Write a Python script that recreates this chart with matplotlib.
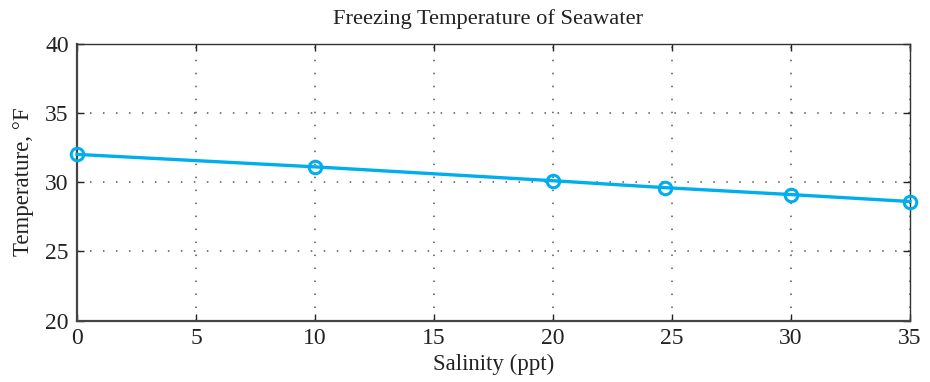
import matplotlib
matplotlib.use("Agg")
import matplotlib.pyplot as plt

salinity = [0, 10, 20, 24.7, 30, 35]
temperature = [32, 31.1, 30.1, 29.6, 29.1, 28.6]
xticks = [0, 5, 10, 15, 20, 25, 30, 35]
yticks = [20, 25, 30, 35, 40]

plt.rcParams['font.family'] = ['Liberation Serif', 'DejaVu Serif']

fig = plt.figure(figsize=(9.30, 3.82), dpi=100)
ax = fig.add_axes([77/930, 1 - 320.7/382, (910-77)/930, (320.7-43.5)/382])

ax.plot(salinity, temperature, color='#00AEEF', lw=2.4, marker='o', ms=9,
        mfc='none', mec='#00AEEF', mew=2.2, clip_on=False, zorder=3)

ax.set_xlim(0, 35)
ax.set_ylim(20, 40)
ax.set_xticks(xticks)
ax.set_yticks(yticks)
ax.tick_params(direction='in', length=5, width=1, top=True, right=True,
               labelsize=17, colors='#222222')
ax.tick_params(axis='y', pad=6)
ax.tick_params(axis='x', pad=5)
ax.grid(True, color='#555555', linestyle=(0, (1, 7.5)), linewidth=1.1)
for s in ['left', 'bottom']:
    ax.spines[s].set_linewidth(1.6)
    ax.spines[s].set_color('#444444')
for s in ['top', 'right']:
    ax.spines[s].set_linewidth(1.0)
    ax.spines[s].set_color('#333333')

ax.set_title('Freezing Temperature of Seawater', fontsize=16.2, pad=14,
             color='#222222', x=0.493)
ax.set_xlabel('Salinity (ppt)', fontsize=16.5, color='#222222', labelpad=4)
ax.set_ylabel('Temperature, \u00b0F', fontsize=16.5, color='#222222', labelpad=8)

fig.savefig('out.png', dpi=100)
